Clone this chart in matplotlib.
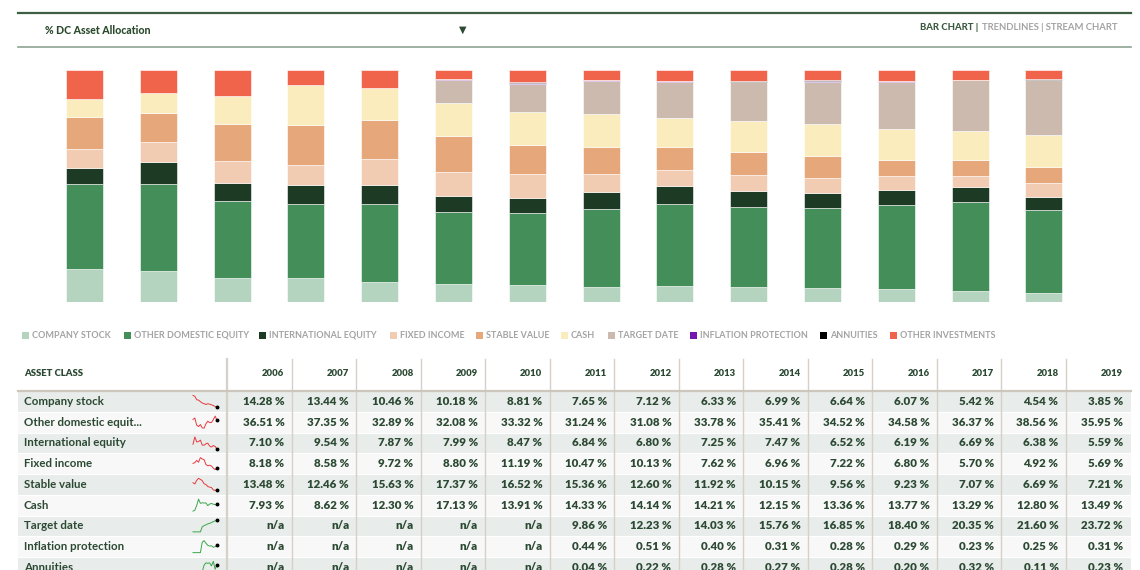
"""% DC asset allocation: stacked bars plus a summary table."""

import matplotlib

matplotlib.use("Agg")
import matplotlib.pyplot as plt
from matplotlib.patches import Rectangle

plt.rcParams["font.family"] = ["Lato", "DejaVu Sans"]

years = [2006, 2007, 2008, 2009, 2010, 2011, 2012, 2013, 2014, 2015, 2016, 2017, 2018, 2019]

company_stock = [14.28, 13.44, 10.46, 10.18, 8.81, 7.65, 7.12, 6.33, 6.99, 6.64, 6.07, 5.42, 4.54, 3.85]
other_domestic = [36.51, 37.35, 32.89, 32.08, 33.32, 31.24, 31.08, 33.78, 35.41, 34.52, 34.58, 36.37, 38.56, 35.95]
international = [7.10, 9.54, 7.87, 7.99, 8.47, 6.84, 6.80, 7.25, 7.47, 6.52, 6.19, 6.69, 6.38, 5.59]
fixed_income = [8.18, 8.58, 9.72, 8.80, 11.19, 10.47, 10.13, 7.62, 6.96, 7.22, 6.80, 5.70, 4.92, 5.69]
stable_value = [13.48, 12.46, 15.63, 17.37, 16.52, 15.36, 12.60, 11.92, 10.15, 9.56, 9.23, 7.07, 6.69, 7.21]
cash = [7.93, 8.62, 12.30, 17.13, 13.91, 14.33, 14.14, 14.21, 12.15, 13.36, 13.77, 13.29, 12.80, 13.49]
target_date = [None, None, None, None, None, 9.86, 12.23, 14.03, 15.76, 16.85, 18.40, 20.35, 21.60, 23.72]
inflation = [None, None, None, None, None, 0.44, 0.51, 0.40, 0.31, 0.28, 0.29, 0.23, 0.25, 0.31]
annuities = [None, None, None, None, None, 0.04, 0.22, 0.28, 0.27, 0.28, 0.20, 0.32, 0.11, 0.23]
other_invest = [12.52, 10.01, 11.13, 6.45, 7.78, 3.77, 5.17, 4.18, 4.53, 4.77, 4.47, 4.56, 4.15, 3.96]

series = [
    ("COMPANY STOCK", "Company stock", company_stock, "#b5d4bf"),
    ("OTHER DOMESTIC EQUITY", "Other domestic equit...", other_domestic, "#448f59"),
    ("INTERNATIONAL EQUITY", "International equity", international, "#1c3a24"),
    ("FIXED INCOME", "Fixed income", fixed_income, "#f2cbb3"),
    ("STABLE VALUE", "Stable value", stable_value, "#e6a77b"),
    ("CASH", "Cash", cash, "#fbecbe"),
    ("TARGET DATE", "Target date", target_date, "#cbbaad"),
    ("INFLATION PROTECTION", "Inflation protection", inflation, "#7416b0"),
    ("ANNUITIES", "Annuities", annuities, "#000000"),
    ("OTHER INVESTMENTS", None, other_invest, "#f0644c"),
]

DARK = "#2c4a33"
GREY = "#a3a3a3"

fig = plt.figure(figsize=(11.4, 5.7), dpi=100)

# full-figure axes in pixel units for header, legend and table
ax0 = fig.add_axes([0, 0, 1, 1])
ax0.set_xlim(0, 1140)
ax0.set_ylim(570, 0)
ax0.axis("off")

# header
ax0.plot([18, 1131], [13, 13], color="#3f5f43", lw=1.6)
ax0.plot([18, 1131], [47, 47], color="#8ea392", lw=1.2)
ax0.text(45, 31, "% DC Asset Allocation", fontsize=7.6, fontweight=900, color="#2a4a2c", va="center")
ax0.text(463, 30, "▼", fontsize=7, color=DARK, va="center", ha="center", family="DejaVu Sans")
nav = ax0.text(1117, 28, "TRENDLINES | STREAM CHART", fontsize=6.8, fontweight="bold", color=GREY,
               ha="right", va="center")
ax0.annotate("BAR CHART |", xy=(0, 0.5), xycoords=nav, xytext=(-2, 0), textcoords="offset points",
             fontsize=6.8, fontweight=900, color="#3b5a3f", ha="right", va="center")

# stacked bars
axb = fig.add_axes([47.6 / 1140, (570 - 302) / 570, (1080.8 - 47.6) / 1140, (302 - 70) / 570])
bottom = [0.0] * len(years)
for _, _, vals, color in series:
    v = [x if x is not None else 0.0 for x in vals]
    axb.bar(range(len(years)), v, bottom=bottom, width=0.5, color=color, edgecolor="white", linewidth=0.4)
    bottom = [b + x for b, x in zip(bottom, v)]
axb.set_xlim(-0.5, len(years) - 0.5)
axb.set_ylim(0, 100)
axb.axis("off")

# legend
legend_x = [22, 124, 259, 390, 476, 561, 608, 690, 820, 890]
for x, (name, _, _, color) in zip(legend_x, series):
    ax0.add_patch(Rectangle((x, 331.5), 7, 7, color=color, lw=0))
    ax0.text(x + 10, 335, name, fontsize=6.5, fontweight="bold", color=GREY, va="center")

# table
col_left = 227
col_w = 64.5
row_top = 391
row_h = 20.75
tbl_left, tbl_right = 18, 1131

for i, (_, label, vals, _) in enumerate(series[:9]):
    y = row_top + i * row_h
    shade = "#e8ecea" if i % 2 == 0 else "#f8f8f8"
    ax0.add_patch(Rectangle((tbl_left, y), tbl_right - tbl_left, row_h, color=shade, lw=0))
    ax0.plot([tbl_left, tbl_right], [y + row_h, y + row_h], color="white", lw=0.8)
    yc = y + row_h / 2
    ax0.text(24, yc, label, fontsize=8.3, fontweight="bold", color=DARK, va="center")
    for k, v in enumerate(vals):
        txt = "n/a" if v is None else f"{v:.2f} %"
        ax0.text(col_left + (k + 1) * col_w - 7, yc, txt, fontsize=8.3, fontweight="heavy",
                 color=DARK, ha="right", va="center")

    # sparkline
    sv = [x if x is not None else 0.0 for x in vals]
    lo, hi = min(sv), max(sv)
    span = hi - lo if hi > lo else 1.0
    xs = [193 + 24 * k / (len(sv) - 1) for k in range(len(sv))]
    ys = [yc + 6 - 12 * (s - lo) / span for s in sv]
    line_color = "#3aa64a" if sv[-1] > sv[0] else "#e8393f"
    ax0.plot(xs, ys, color=line_color, lw=0.7)
    ax0.plot(xs[-1], ys[-1], "o", color="black", ms=1.8)

# header row
ax0.text(24, 373, "ASSET CLASS", fontsize=6.8, fontweight="heavy", color=DARK, va="center")
for k, yr in enumerate(years):
    ax0.text(col_left + (k + 1) * col_w - 7, 373, str(yr), fontsize=6.8, fontweight="heavy",
             color=DARK, ha="right", va="center")
for k in range(len(years)):
    x = col_left + k * col_w
    ax0.plot([x, x], [359, 570], color="#d6d0c9", lw=1.6 if k == 0 else 1.0)
ax0.plot([tbl_left, tbl_right], [391, 391], color="#cdc6bd", lw=1.6)

fig.savefig("out.png", dpi=100)
plt.close(fig)
